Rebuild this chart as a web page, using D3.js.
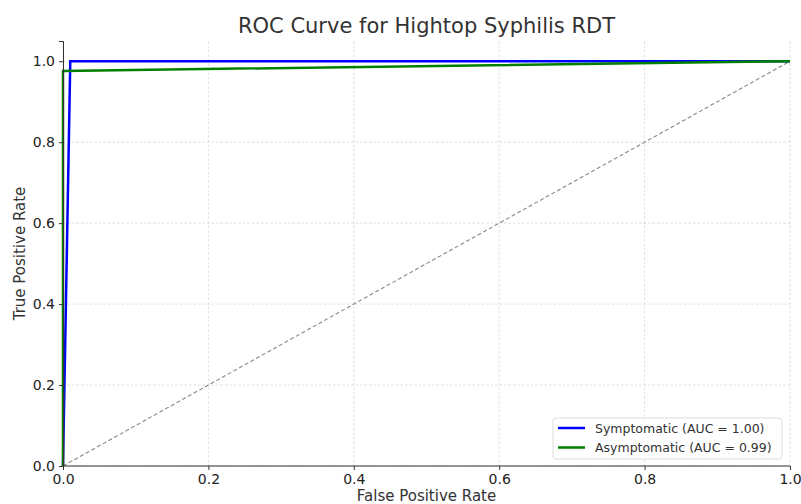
<!DOCTYPE html>
<html>
<head>
<meta charset="utf-8">
<script src="https://cdn.jsdelivr.net/npm/d3@7"></script>
<style>
  body { margin: 0; background: #fff; }
  text { font-family: "DejaVu Sans", sans-serif; }
</style>
</head>
<body>
<script>
// data
const symptomaticFpr = [0, 0.01, 1];
const symptomaticTpr = [0, 1, 1];
const asymptomaticFpr = [0, 0, 1];
const asymptomaticTpr = [0, 0.976, 1];
const chanceLine = [0, 1];
const tickValues = [0, 0.2, 0.4, 0.6, 0.8, 1.0];
const seriesNames = ["Symptomatic (AUC = 1.00)", "Asymptomatic (AUC = 0.99)"];
const seriesColors = ["#0000ff", "#008000"];

const W = 801, H = 504;
const margin = { top: 41, right: 11, bottom: 38, left: 63 };
const width = W - margin.left - margin.right,
    height = H - margin.top - margin.bottom;

const svg = d3.select("body").append("svg")
    .attr("width", W).attr("height", H);
const g = svg.append("g")
    .attr("transform", "translate(" + margin.left + "," + margin.top + ")");

const x = d3.scaleLinear().domain([0, 1]).range([0, width]);
const y = d3.scaleLinear().domain([0, 1.05]).range([height, 0]);

// grid
g.append("g").selectAll("line").data(tickValues).join("line")
    .attr("x1", d => x(d)).attr("x2", d => x(d))
    .attr("y1", 0).attr("y2", height)
    .attr("stroke", "#d6d6d6").attr("stroke-width", 0.8)
    .attr("stroke-dasharray", "2.5,2");
g.append("g").selectAll("line").data(tickValues).join("line")
    .attr("x1", 0).attr("x2", width)
    .attr("y1", d => y(d)).attr("y2", d => y(d))
    .attr("stroke", "#d6d6d6").attr("stroke-width", 0.8)
    .attr("stroke-dasharray", "2.5,2");

// chance diagonal
g.append("path")
    .datum(chanceLine)
    .attr("fill", "none")
    .attr("stroke", "#888")
    .attr("stroke-width", 1.1)
    .attr("stroke-dasharray", "4,2.5")
    .attr("d", d3.line().x(d => x(d)).y(d => y(d)));

const line = d3.line().x(d => x(d[0])).y(d => y(d[1]));
const series = [
    d3.zip(symptomaticFpr, symptomaticTpr),
    d3.zip(asymptomaticFpr, asymptomaticTpr)
];
series.forEach((pts, i) => {
    g.append("path")
        .datum(pts)
        .attr("fill", "none")
        .attr("stroke", seriesColors[i])
        .attr("stroke-width", 2.5)
        .attr("d", line);
});

// axes
const xAxis = g.append("g")
    .attr("transform", "translate(0," + height + ")")
    .call(d3.axisBottom(x).tickValues(tickValues).tickFormat(d3.format(".1f")).tickSize(4).tickPadding(4));
const yAxis = g.append("g")
    .call(d3.axisLeft(y).tickValues(tickValues).tickFormat(d3.format(".1f")).tickSize(4).tickPadding(4));
[xAxis, yAxis].forEach(a => {
    a.selectAll("path,line").attr("stroke", "#333").attr("stroke-width", 1);
    a.selectAll("text").attr("fill", "#222").style("font-size", "14px")
        .style("font-family", "'DejaVu Sans', sans-serif");
});
xAxis.select(".domain").attr("d", "M0.5,0H" + width);

// titles
svg.append("text")
    .attr("x", margin.left + width / 2).attr("y", 33)
    .attr("text-anchor", "middle")
    .attr("fill", "#333").style("font-size", "21px")
    .text("ROC Curve for Hightop Syphilis RDT");
svg.append("text")
    .attr("x", margin.left + width / 2).attr("y", 501)
    .attr("text-anchor", "middle")
    .attr("fill", "#333").style("font-size", "15px")
    .text("False Positive Rate");
svg.append("text")
    .attr("transform", "translate(25," + (margin.top + height / 2) + ") rotate(-90)")
    .attr("text-anchor", "middle")
    .attr("fill", "#333").style("font-size", "15px")
    .text("True Positive Rate");

// legend
const lg = svg.append("g").attr("transform", "translate(553,418)");
lg.append("rect")
    .attr("width", 229).attr("height", 41).attr("rx", 3)
    .attr("fill", "#fff").attr("fill-opacity", 0.85)
    .attr("stroke", "#ddd");
seriesNames.forEach((name, i) => {
    const ly = 10 + i * 19.5;
    lg.append("line")
        .attr("x1", 5).attr("x2", 32).attr("y1", ly).attr("y2", ly)
        .attr("stroke", seriesColors[i]).attr("stroke-width", 2.5);
    lg.append("text")
        .attr("x", 42).attr("y", ly + 4.5)
        .attr("fill", "#333").style("font-size", "12.5px")
        .text(name);
});
</script>
</body>
</html>
